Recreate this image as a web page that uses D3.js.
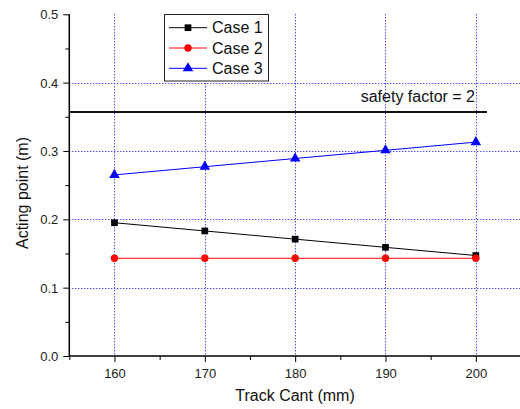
<!DOCTYPE html>
<html><head><meta charset="utf-8">
<script src="https://cdn.jsdelivr.net/npm/d3@7"></script>
<style>body{margin:0;background:#fff}svg{display:block;font-family:Arial,"Liberation Sans",sans-serif}</style>
</head><body><svg id="c" width="520" height="409"></svg>
<script>
const cant = [160, 170, 180, 190, 200];
const case1 = [0.195, 0.183, 0.171, 0.159, 0.147];
const case2 = [0.143, 0.143, 0.143, 0.143, 0.143];
const case3 = [0.265, 0.277, 0.289, 0.301, 0.313];
const seriesNames = ["Case 1", "Case 2", "Case 3"];
const safetyValue = 0.357;
const safetyLabel = "safety factor = 2";
const yTicks = [0.0, 0.1, 0.2, 0.3, 0.4, 0.5];
const xTicks = [160, 170, 180, 190, 200];

const svg = d3.select("#c");
const x = d3.scaleLinear().domain([155, 205]).range([69.3, 521]);
const y = d3.scaleLinear().domain([0, 0.5]).range([356, 14.3]);

// grid
const grid = svg.append("g").attr("stroke", "#00f").attr("stroke-width", 1).attr("stroke-dasharray", "1,2");
grid.selectAll(".hg").data([0.1, 0.2, 0.3, 0.4]).join("line")
  .attr("x1", x(155)).attr("x2", 520).attr("y1", d => Math.round(y(d)) + 0.5).attr("y2", d => Math.round(y(d)) + 0.5);
grid.selectAll(".vg").data(xTicks).join("line")
  .attr("y1", y(0.5)).attr("y2", y(0)).attr("x1", d => Math.round(x(d)) + 0.5).attr("x2", d => Math.round(x(d)) + 0.5);

// safety line
svg.append("line").attr("x1", x(155)).attr("x2", 487).attr("y1", y(safetyValue)).attr("y2", y(safetyValue))
  .attr("stroke", "#111").attr("stroke-width", 2);
svg.append("text").attr("x", 475).attr("y", 102).attr("text-anchor", "end").attr("font-size", 16).attr("fill", "#111").text(safetyLabel);

// axes
const xAxis = d3.axisBottom(x).tickValues(d3.range(155, 206, 5)).tickSize(6).tickFormat(d => xTicks.includes(d) ? d : "");
const gx = svg.append("g").attr("transform", `translate(0,${y(0)})`).call(xAxis);
gx.selectAll(".tick line").attr("y2", d => xTicks.includes(d) ? 6 : 4);
gx.select(".domain").attr("d", `M${x(155)},0H520`).attr("stroke-width", 1.5);
gx.selectAll("text").attr("font-size", 13).attr("fill", "#222").attr("dy", "0").attr("y", 22).attr("font-family", "Arial");

const yAxis = d3.axisLeft(y).tickValues(d3.range(0, 0.501, 0.05)).tickSize(6)
  .tickFormat(d => (Math.round(d * 100) % 10 === 0) ? d3.format(".1f")(d) : "");
const gy = svg.append("g").attr("transform", `translate(${x(155)},0)`).call(yAxis);
gy.selectAll(".tick line").attr("x2", d => (Math.round(d * 100) % 10 === 0) ? -6 : -4);
gy.select(".domain").attr("d", `M0,${y(0)}V${y(0.5)}`).attr("stroke-width", 1.5);
gy.selectAll("text").attr("font-size", 13).attr("fill", "#222").attr("x", -11).attr("dy", "0.35em").attr("font-family", "Arial");

svg.append("text").attr("x", 295).attr("y", 401).attr("text-anchor", "middle").attr("font-size", 16).attr("fill", "#111").text("Track Cant (mm)");
svg.append("text").attr("transform", "translate(28,193) rotate(-90)").attr("text-anchor", "middle").attr("font-size", 16).attr("fill", "#111").text("Acting point (m)");

// series
const series = [
  {name: seriesNames[0], vals: case1, color: "#000", sym: d3.symbolSquare, size: 45},
  {name: seriesNames[1], vals: case2, color: "#f00", sym: d3.symbolCircle, size: 42},
  {name: seriesNames[2], vals: case3, color: "#00f", sym: d3.symbolTriangle, size: 48}
];
const line = d3.line().x((d, i) => x(cant[i])).y(d => y(d));
series.forEach(s => {
  svg.append("path").attr("d", line(s.vals)).attr("fill", "none").attr("stroke", s.color).attr("stroke-width", 1);
  svg.selectAll(null).data(s.vals).join("path")
    .attr("transform", (d, i) => `translate(${x(cant[i])},${y(d)})`)
    .attr("d", d3.symbol(s.sym, s.size)).attr("fill", s.color);
});

// legend
const lg = svg.append("g");
lg.append("rect").attr("x", 164.5).attr("y", 14.5).attr("width", 104).attr("height", 66.5).attr("fill", "#fff").attr("stroke", "#222").attr("stroke-width", 1);
series.forEach((s, i) => {
  const yy = 27.7 + i * 20.3;
  lg.append("line").attr("x1", 169).attr("x2", 207).attr("y1", yy).attr("y2", yy).attr("stroke", s.color).attr("stroke-width", 1);
  lg.append("path").attr("transform", `translate(188,${yy})`).attr("d", d3.symbol(s.sym, s.size)).attr("fill", s.color);
  lg.append("text").attr("x", 212).attr("y", yy).attr("dy", "0.36em").attr("font-size", 16).attr("fill", "#111").text(s.name);
});
</script></body></html>
